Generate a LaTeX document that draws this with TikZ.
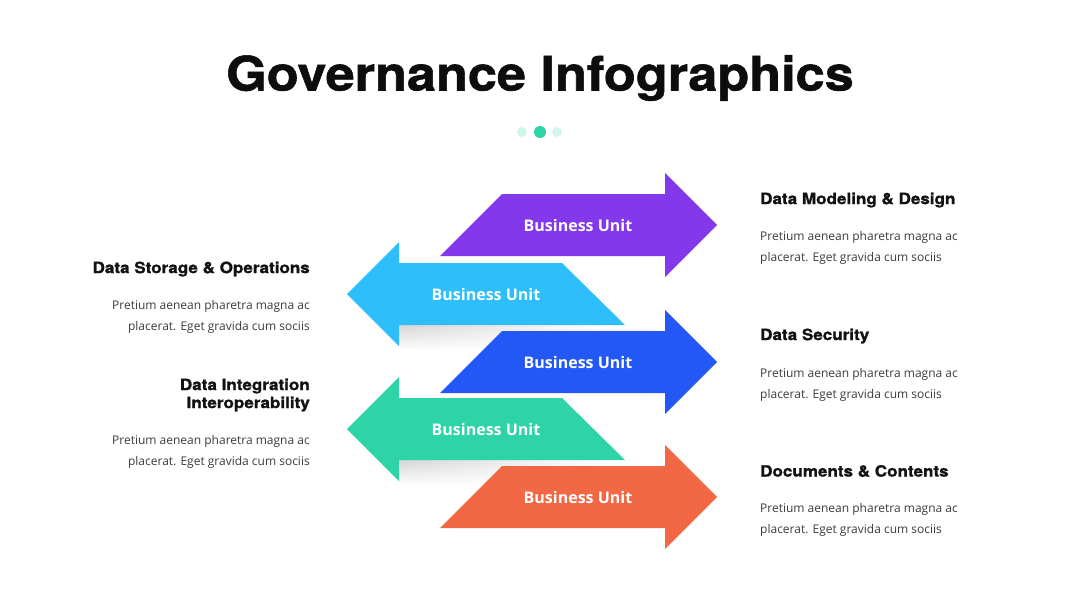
\documentclass[tikz,border=0pt]{standalone}
\usepackage{fontspec}
\setmainfont{Open Sans}
\newfontfamily\headfont{TeX Gyre Heros}[FakeStretch=1.1, FakeBold=1.2]
\usetikzlibrary{fadings}

\definecolor{unitPurple}{HTML}{8338EC}
\definecolor{unitCyan}{HTML}{2EBEFC}
\definecolor{unitBlue}{HTML}{2357F6}
\definecolor{unitGreen}{HTML}{2ED4A7}
\definecolor{unitOrange}{HTML}{F26844}
\definecolor{dotLight}{HTML}{D2F5EC}
\definecolor{bodyGray}{HTML}{3C3C3C}
\tikzfading[name=fadeRight, left color=transparent!0, right color=transparent!100]

\begin{document}
\begin{tikzpicture}[x=1pt, y=-1pt,
  unitlabel/.style={text=white, font=\bfseries\fontsize{16}{18}\selectfont},
  unitshade/.style={top color=black!16, bottom color=white, path fading=fadeRight},
  topichead/.style={font=\headfont\bfseries\fontsize{15.5}{18}\selectfont,
      text=black!93, inner sep=0pt},
  topicbody/.style={font=\fontsize{12}{21}\selectfont, text=bodyGray, inner sep=0pt}]
\useasboundingbox[fill=white] (0,0) rectangle (1080,608);
% ---------- title and dots ----------
\node[font=\headfont\bfseries\fontsize{47.5}{52}\selectfont, text=black!95] (title) at (540,78) {Governance Infographics};
\fill[dotLight] (522,132) circle (5pt);
\fill[unitGreen] (540,132) circle (6pt);
\fill[dotLight] (557,132) circle (5pt);
% ---------- arrows, top to bottom ----------
\fill[unitPurple] (440,256) -- (502,194) -- (665,194) -- (665,173) -- (717,225) -- (665,277) -- (665,256) -- cycle;
\node[unitlabel] (unit1) at (578,225) {Business Unit};
\shade[unitshade] (399,325) rectangle (600,350);
\fill[unitCyan] (625,325) -- (562,263) -- (399,263) -- (399,242) -- (347,294) -- (399,346) -- (399,325) -- cycle;
\node[unitlabel] (unit2) at (486,294) {Business Unit};
\fill[unitBlue] (440,393) -- (502,331) -- (665,331) -- (665,310) -- (717,362) -- (665,414) -- (665,393) -- cycle;
\node[unitlabel] (unit3) at (578,362) {Business Unit};
\shade[unitshade] (399,460) rectangle (600,485);
\fill[unitGreen] (625,460) -- (562,398) -- (399,398) -- (399,377) -- (347,429) -- (399,481) -- (399,460) -- cycle;
\node[unitlabel] (unit4) at (486,429) {Business Unit};
\fill[unitOrange] (440,528) -- (502,466) -- (665,466) -- (665,445) -- (717,497) -- (665,549) -- (665,528) -- cycle;
\node[unitlabel] (unit5) at (578,497) {Business Unit};
% ---------- right column ----------
\node[topichead, anchor=west] (modelHead) at (760,200) {Data Modeling \& Design};
\node[topicbody, anchor=north west, align=left] (modelBody) at (760,231) {Pretium aenean pharetra magna ac\\placerat. Eget gravida cum sociis};
\node[topichead, anchor=west] (securityHead) at (760,336) {Data Security};
\node[topicbody, anchor=north west, align=left] (securityBody) at (760,368) {Pretium aenean pharetra magna ac\\placerat. Eget gravida cum sociis};
\node[topichead, anchor=west] (docsHead) at (760,471) {Documents \& Contents};
\node[topicbody, anchor=north west, align=left] (docsBody) at (760,503) {Pretium aenean pharetra magna ac\\placerat. Eget gravida cum sociis};
% ---------- left column ----------
\node[topichead, anchor=east] (storageHead) at (310,269) {Data Storage \& Operations};
\node[topicbody, anchor=north east, align=right] (storageBody) at (310,300) {Pretium aenean pharetra magna ac\\placerat. Eget gravida cum sociis};
\node[topichead, anchor=east, align=right] (integrationHead) at (310,395) {Data Integration\\[0pt]Interoperability};
\node[topicbody, anchor=north east, align=right] (integrationBody) at (310,435) {Pretium aenean pharetra magna ac\\placerat. Eget gravida cum sociis};
\end{tikzpicture}
\end{document}
